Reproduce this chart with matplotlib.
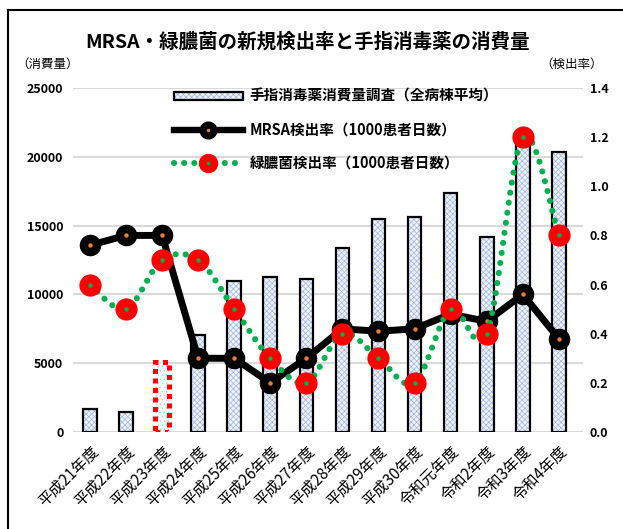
import numpy as np
import matplotlib
matplotlib.use("Agg")
import matplotlib.pyplot as plt
from matplotlib.lines import Line2D
from matplotlib.patches import Patch
from matplotlib.legend_handler import HandlerTuple

plt.rcParams['font.family'] = ['Noto Sans CJK JP', 'DejaVu Sans']
plt.rcParams['hatch.linewidth'] = 0.5

years = ['平成21年度', '平成22年度', '平成23年度', '平成24年度', '平成25年度',
         '平成26年度', '平成27年度', '平成28年度', '平成29年度', '平成30年度',
         '令和元年度', '令和2年度', '令和3年度', '令和4年度']
consumption = [1650, 1450, 5100, 7050, 10950, 11250, 11100, 13400,
               15450, 15600, 17400, 14150, 21000, 20350]
mrsa_rate = [0.76, 0.80, 0.80, 0.30, 0.30, 0.20, 0.30, 0.42,
             0.41, 0.42, 0.48, 0.45, 0.56, 0.38]
pseudo_rate = [0.6, 0.5, 0.7, 0.7, 0.5, 0.3, 0.2, 0.4,
               0.3, 0.2, 0.5, 0.4, 1.2, 0.8]
estimated_idx = 2  # 平成23年度 is drawn as an estimated bar

title = 'MRSA・緑膿菌の新規検出率と手指消毒薬の消費量'
bar_label = '手指消毒薬消費量調査（全病棟平均）'
mrsa_label = 'MRSA検出率（1000患者日数）'
pseudo_label = '緑膿菌検出率（1000患者日数）'


def smooth(xs, ys, n=40):
    """Bezier smoothing through every point (spreadsheet-style smoothed line)."""
    p = np.column_stack([xs, ys]).astype(float)
    ext = np.vstack([p[0], p, p[-1]])
    out = []
    for i in range(len(p) - 1):
        p0, p1, p2, p3 = ext[i], ext[i + 1], ext[i + 2], ext[i + 3]
        c1 = p1 + (p2 - p0) / 6.0
        c2 = p2 - (p3 - p1) / 6.0
        t = np.linspace(0, 1, n, endpoint=(i == len(p) - 2))[:, None]
        seg = ((1 - t) ** 3) * p1 + 3 * ((1 - t) ** 2) * t * c1 + 3 * (1 - t) * t ** 2 * c2 + t ** 3 * p2
        out.append(seg)
    s = np.vstack(out)
    return s[:, 0], s[:, 1]


fig = plt.figure(figsize=(6.23, 5.29), dpi=100)
ax = fig.add_axes([73 / 623, 97 / 529, 510 / 623, 344 / 529])
ax2 = ax.twinx()

x = np.arange(len(years))
hatch_col = '#9fb6e2'
fill_col = '#eef2fa'

# consumption bars: patterned fill, then outline
normal = [i for i in x if i != estimated_idx]
ax.bar(normal, [consumption[i] for i in normal], width=0.38, color=fill_col,
       edgecolor=hatch_col, hatch='xxxxxx', linewidth=0, zorder=2)
ax.bar(normal, [consumption[i] for i in normal], width=0.38, fill=False,
       edgecolor='black', linewidth=1.6, zorder=3)
ax.bar([estimated_idx], [consumption[estimated_idx]], width=0.38, color='white',
       edgecolor='#b4c7e7', hatch='....', linewidth=0, zorder=2)
ax.bar([estimated_idx], [consumption[estimated_idx]], width=0.38, fill=False,
       edgecolor='#ff0000', linewidth=3.6, linestyle=(0, (1.0, 0.9)), zorder=3)

ax.set_xlim(-0.47, 13.67)
ax.set_ylim(0, 25000)
ax.set_yticks(np.arange(0, 25001, 5000))
ax.yaxis.grid(True, color='#d9d9d9', linewidth=1.5)
ax.set_axisbelow(True)
ax.tick_params(axis='y', length=0, pad=7, labelsize=9)
for lab in ax.get_yticklabels():
    lab.set_fontweight('bold')
ax.set_xticks(x)
ax.set_xticklabels(years, rotation=45, ha='right', rotation_mode='anchor', fontsize=11)
ax.tick_params(axis='x', length=0, pad=8)

ax2.set_ylim(0, 1.4)
ax2.set_yticks(np.arange(0, 1.41, 0.2))
ax2.set_yticklabels([f'{v:.1f}' for v in np.arange(0, 1.41, 0.2)])
ax2.tick_params(axis='y', length=0, pad=5, labelsize=9)
for lab in ax2.get_yticklabels():
    lab.set_fontweight('bold')

for a in (ax, ax2):
    for sp in a.spines.values():
        sp.set_visible(False)

# MRSA line
ax2.plot(x, mrsa_rate, color='black', linewidth=5.0, zorder=4, solid_capstyle='round')
ax2.plot(x, mrsa_rate, linestyle='none', marker='o', markersize=14.5,
         markerfacecolor='black', markeredgecolor='black', zorder=5)
ax2.plot(x, mrsa_rate, linestyle='none', marker='o', markersize=3.2,
         markerfacecolor='#ed7d31', markeredgewidth=0, zorder=6)

# Pseudomonas smoothed dotted line
sx, sy = smooth(x, pseudo_rate)
ax2.plot(sx, sy, color='#00b050', linewidth=4.4, linestyle=(0, (0.01, 1.65)),
         dash_capstyle='round', zorder=7)
ax2.plot(x, pseudo_rate, linestyle='none', marker='o', markersize=16,
         markerfacecolor='#ff0000', markeredgewidth=0, zorder=8)
ax2.plot(x, pseudo_rate, linestyle='none', marker='o', markersize=3.2,
         markerfacecolor='#00b050', markeredgewidth=0, zorder=9)

# legend
h_bar = (Patch(facecolor=fill_col, edgecolor=hatch_col, hatch='xxxxxx', linewidth=0),
         Patch(fill=False, edgecolor='black', linewidth=1.6))
h_mrsa = (Line2D([], [], color='black', linewidth=4.6, marker='o', markersize=12,
                 markerfacecolor='black', markeredgecolor='black'),
          Line2D([], [], linestyle='none', marker='o', markersize=2.5,
                 markerfacecolor='#ed7d31', markeredgewidth=0))
h_ps = (Line2D([], [], color='#00b050', linewidth=4.4, linestyle=(0, (0.01, 1.65)),
               dash_capstyle='round'),
        Line2D([], [], linestyle='none', marker='o', markersize=14,
               markerfacecolor='#ff0000', markeredgewidth=0),
        Line2D([], [], linestyle='none', marker='o', markersize=2.5,
               markerfacecolor='#00b050', markeredgewidth=0))
leg = ax2.legend([h_bar, h_mrsa, h_ps], [bar_label, mrsa_label, pseudo_label],
                 handler_map={tuple: HandlerTuple(ndivide=1, pad=0)},
                 loc='upper left', bbox_to_anchor=(174 / 623, 1 - 88 / 529),
                 bbox_transform=fig.transFigure, frameon=False,
                 prop={'size': 10.5, 'weight': 'bold'}, handlelength=4.7,
                 handleheight=0.5, labelspacing=1.2, handletextpad=0.5,
                 borderaxespad=0, borderpad=0)
leg.set_zorder(10)

fig.text(308 / 623, 1 - 42 / 529, title, ha='center', va='center', fontsize=14, fontweight='bold')
fig.text(48 / 623, 1 - 64 / 529, '（消費量）', ha='center', va='center', fontsize=9)
fig.text(572 / 623, 1 - 64 / 529, '（検出率）', ha='center', va='center', fontsize=9)

# outer frame (top and left edges visible)
fig.add_artist(Line2D([7.5 / 623, 7.5 / 623], [0, 1 - 10 / 529], color='black', linewidth=1.5,
                      transform=fig.transFigure))
fig.add_artist(Line2D([7.5 / 623, 1], [1 - 10 / 529, 1 - 10 / 529], color='black', linewidth=1.5,
                      transform=fig.transFigure))

fig.savefig('out.png', dpi=100)
